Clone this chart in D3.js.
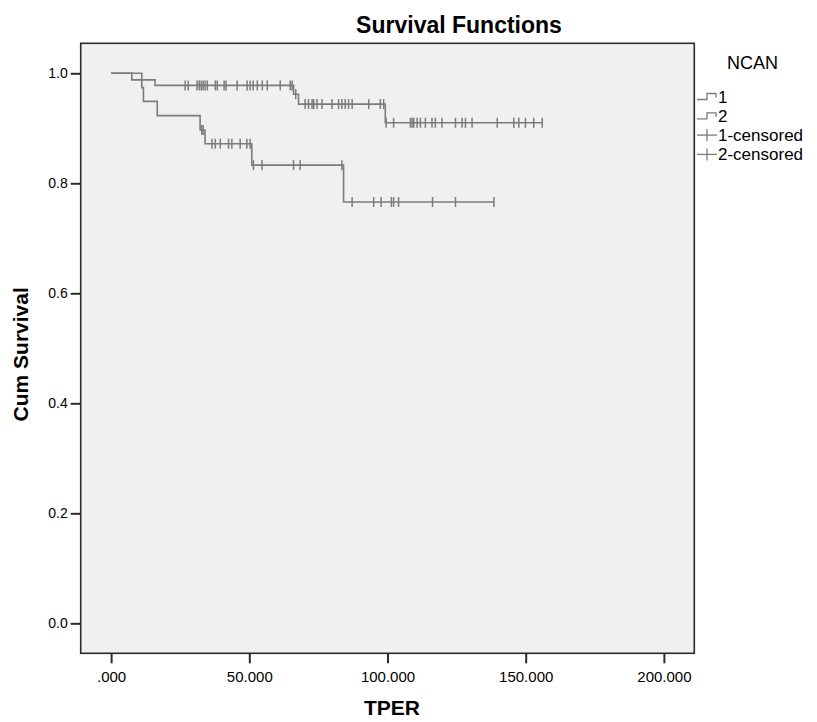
<!DOCTYPE html>
<html>
<head>
<meta charset="utf-8">
<script src="https://cdn.jsdelivr.net/npm/d3@7"></script>
<style>
  body { margin: 0; background: #fff; }
  svg { display: block; }
  text { font-family: "Liberation Sans", Arial, sans-serif; fill: #000; }
</style>
</head>
<body>
<div id="chart"></div>
<script>
// Kaplan-Meier survival functions, NCAN groups 1 and 2

// group 1 : event times and survival after each event
var g1EventTimes = [7.5, 15.9, 66.0, 67.8, 99.2];
var g1EventSurv  = [0.988, 0.978, 0.962, 0.944, 0.910];
var g1Censored   = [26.8, 27.9, 31.1, 31.9, 32.6, 33.3, 34.0, 34.8, 37.7, 38.4, 40.9, 41.6,
                    45.6, 49.2, 50.3, 51.4, 52.9, 54.7, 56.5, 61.2, 64.8, 65.5, 66.8,
                    70.2, 71.4, 72.7, 73.3, 74.5, 76.3, 79.9, 82.3, 83.5, 84.7, 85.9, 87.2,
                    93.2, 97.4, 98.6, 99.5, 102.2, 108.3, 108.9, 109.5, 110.7, 111.9, 113.7,
                    116.1, 117.3, 119.7, 124.6, 127.0, 128.2, 130.6, 139.7, 145.7, 147.5,
                    149.9, 152.9, 156.0];

// group 2
var g2EventTimes = [11.1, 11.7, 16.7, 32.2, 34.0, 50.9, 84.1];
var g2EventSurv  = [0.974, 0.949, 0.923, 0.897, 0.872, 0.833, 0.766];
var g2Censored   = [32.8, 33.3, 36.5, 37.7, 39.5, 42.5, 43.7, 46.7, 49.1, 50.3,
                    51.5, 54.6, 66.0, 68.4, 83.5, 87.2, 95.0, 97.7, 101.4, 102.2, 104.0,
                    116.3, 124.6, 138.5];

var groupNames = ["1", "2"];
var xTicks = [0, 50, 100, 150, 200];
var yTicks = [0, 0.2, 0.4, 0.6, 0.8, 1.0];

var width = 817, height = 722;
var plot = { left: 80.7, right: 694.3, top: 43.3, bottom: 653.3 };
var lineColor = "#7b7b7b";

var svg = d3.select("#chart").append("svg")
  .attr("width", width)
  .attr("height", height);

var x = d3.scaleLinear().domain([-11, 211]).range([plot.left, plot.right]);
var y = d3.scaleLinear().domain([-0.0545, 1.0545]).range([plot.bottom, plot.top]);

// plot background
svg.append("rect")
  .attr("x", plot.left).attr("y", plot.top)
  .attr("width", plot.right - plot.left)
  .attr("height", plot.bottom - plot.top)
  .style("fill", "#f0f0f0");

// build step points from events
function stepPoints(times, surv, censored) {
  var pts = [[0, 1]];
  times.forEach(function(t, i) { pts.push([t, surv[i]]); });
  var end = d3.max(censored.concat(times));
  pts.push([end, surv[surv.length - 1]]);
  return pts;
}
function survAt(t, times, surv) {
  var s = 1;
  times.forEach(function(et, i) { if (et <= t) s = surv[i]; });
  return s;
}

var groups = [
  { times: g1EventTimes, surv: g1EventSurv, cens: g1Censored },
  { times: g2EventTimes, surv: g2EventSurv, cens: g2Censored }
];

var line = d3.line()
  .x(function(d) { return x(d[0]); })
  .y(function(d) { return y(d[1]); })
  .curve(d3.curveStepAfter);

groups.forEach(function(g) {
  svg.append("path")
    .datum(stepPoints(g.times, g.surv, g.cens))
    .attr("d", line)
    .style("fill", "none")
    .style("stroke", lineColor)
    .style("stroke-width", 1.6);

  svg.append("g").selectAll("line")
    .data(g.cens)
    .enter().append("line")
    .attr("x1", function(d) { return x(d); })
    .attr("x2", function(d) { return x(d); })
    .attr("y1", function(d) { return y(survAt(d, g.times, g.surv)) - 5; })
    .attr("y2", function(d) { return y(survAt(d, g.times, g.surv)) + 5; })
    .style("stroke", lineColor)
    .style("stroke-width", 1.5);
});

// frame
svg.append("rect")
  .attr("x", plot.left).attr("y", plot.top)
  .attr("width", plot.right - plot.left)
  .attr("height", plot.bottom - plot.top)
  .style("fill", "none")
  .style("stroke", "#2a2a2a")
  .style("stroke-width", 1.6);

// axes
var yAxis = svg.append("g")
  .attr("transform", "translate(" + plot.left + ",0)")
  .call(d3.axisLeft(y).tickValues(yTicks).tickFormat(d3.format(".1f")).tickSize(10).tickSizeOuter(0).tickPadding(3));
var xAxis = svg.append("g")
  .attr("transform", "translate(0," + plot.bottom + ")")
  .call(d3.axisBottom(x).tickValues(xTicks)
    .tickFormat(function(d) { return d === 0 ? ".000" : d3.format(".3f")(d); })
    .tickSize(10).tickSizeOuter(0).tickPadding(8));
[yAxis, xAxis].forEach(function(a) {
  a.select(".domain").remove();
  a.selectAll(".tick line").style("stroke", "#2a2a2a").style("stroke-width", 2);
  a.selectAll(".tick text")
    .style("font-family", "'Liberation Sans', Arial, sans-serif")
    .style("fill", "#000");
});
yAxis.selectAll(".tick text").style("font-size", "14px");
xAxis.selectAll(".tick text").style("font-size", "15px");

// titles
svg.append("text")
  .attr("x", 459).attr("y", 33)
  .attr("text-anchor", "middle")
  .style("font-size", "23px").style("font-weight", "bold")
  .text("Survival Functions");

svg.append("text")
  .attr("x", 392).attr("y", 715)
  .attr("text-anchor", "middle")
  .style("font-size", "21px").style("font-weight", "bold")
  .text("TPER");

svg.append("text")
  .attr("transform", "translate(28," + ((plot.top + plot.bottom) / 2 + 6) + ") rotate(-90)")
  .attr("text-anchor", "middle")
  .style("font-size", "21px").style("font-weight", "bold")
  .text("Cum Survival");

// legend
var legend = svg.append("g").attr("transform", "translate(697,0)");
legend.append("text")
  .attr("x", 30).attr("y", 69)
  .style("font-size", "18px")
  .text("NCAN");

var legendRows = groupNames.map(function(n) { return { label: n, kind: "step" }; })
  .concat(groupNames.map(function(n) { return { label: n + "-censored", kind: "cens" }; }));

legendRows.forEach(function(r, i) {
  var cy = 96.5 + i * 19.3;
  var gItem = legend.append("g").attr("transform", "translate(0," + cy + ")");
  if (r.kind === "step") {
    gItem.append("path")
      .attr("d", "M0,3 H10 V-3 H19 V1")
      .style("fill", "none").style("stroke", lineColor).style("stroke-width", 1.3);
  } else {
    gItem.append("line").attr("x1", 0).attr("x2", 20).attr("y1", 0).attr("y2", 0)
      .style("stroke", lineColor).style("stroke-width", 1.3);
    gItem.append("line").attr("x1", 10).attr("x2", 10).attr("y1", -6).attr("y2", 6)
      .style("stroke", lineColor).style("stroke-width", 1.3);
  }
  gItem.append("text")
    .attr("x", 21).attr("y", 6)
    .style("font-size", "17px")
    .text(r.label);
});
</script>
</body>
</html>
